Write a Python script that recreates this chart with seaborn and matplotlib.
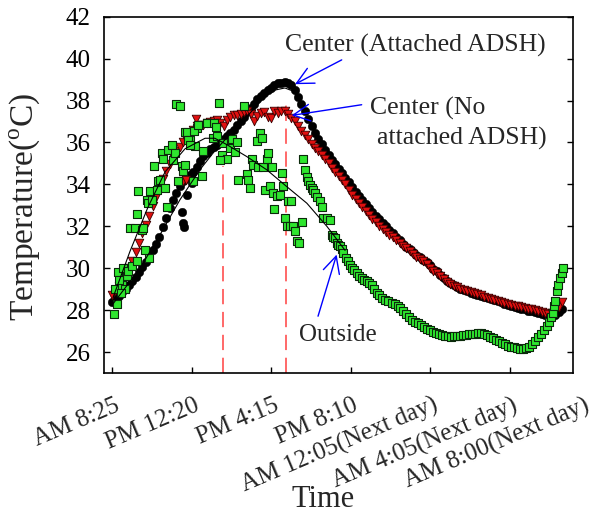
import numpy as np
import pandas as pd
import matplotlib
matplotlib.use("Agg")
import matplotlib.pyplot as plt
import seaborn as sns

# ---------------- data (minutes after AM 8:25) ----------------
tick_labels = ["AM 8:25", "PM 12:20", "PM 4:15", "PM 8:10",
               "AM 12:05(Next day)", "AM 4:05(Next day)", "AM 8:00(Next day)"]
tick_minutes = [0, 235, 470, 705, 940, 1175, 1389]
yticks = [26, 28, 30, 32, 34, 36, 38, 40, 42]

# regular 10-min sampling for the two centre sensors
center_t = np.arange(0, 1331, 10)
attached_temp = [
    28.4, 28.53, 28.68, 28.85, 29.02, 29.2, 29.4, 29.6, 29.8, 30.05,
    30.3, 30.58, 30.85, 31.15, 31.5, 31.95, 32.4, 32.85, 33.25, 33.6,
    33.9, 34.15, 34.3, 34.45, 34.6, 34.85, 35.1, 35.35, 35.52, 35.67,
    35.8, 35.9, 36.0, 36.15, 36.3, 36.47, 36.6, 36.82, 37.03, 37.2,
    37.43, 37.65, 37.85, 38.05, 38.22, 38.35, 38.48, 38.62, 38.75, 38.82,
    38.86, 38.88, 38.85, 38.75, 38.5, 38.15, 37.85, 37.5, 37.12, 36.78,
    36.45, 36.18, 35.92, 35.65, 35.42, 35.18, 34.95, 34.75, 34.54, 34.3,
    34.1, 33.88, 33.65, 33.45, 33.25, 33.05, 32.88, 32.7, 32.5, 32.33,
    32.17, 32.0, 31.83, 31.67, 31.5, 31.33, 31.17, 31.0, 30.9, 30.78,
    30.65, 30.52, 30.4, 30.3, 30.13, 29.97, 29.85, 29.68, 29.53, 29.4,
    29.3, 29.2, 29.1, 29.03, 28.97, 28.9, 28.83, 28.77, 28.72, 28.67,
    28.61, 28.56, 28.51, 28.46, 28.42, 28.37, 28.31, 28.26, 28.21, 28.17,
    28.12, 28.07, 28.03, 27.98, 27.94, 27.9, 27.86, 27.82, 27.78, 27.74,
    27.74, 27.79, 27.9, 28.05]
noattach_temp = [
    28.7, 28.93, 29.17, 29.45, 29.72, 30.0, 30.35, 30.78, 31.22, 31.7,
    32.07, 32.48, 32.95, 33.42, 33.85, 34.25, 34.62, 34.97, 35.3, 35.57,
    35.8, 36.0, 36.17, 36.37, 36.6, 36.78, 36.85, 36.85, 36.92, 36.97,
    37.0, 37.08, 36.95, 36.8, 37.05, 37.2, 37.3, 37.33, 37.38, 37.45,
    37.5, 37.35, 37.0, 37.25, 37.4, 37.45, 37.2, 37.15, 37.5, 37.42,
    37.48, 37.5, 37.35, 37.18, 37.0, 36.77, 36.55, 36.35, 36.15, 35.95,
    35.75, 35.58, 35.4, 35.2, 35.0, 34.8, 34.6, 34.4, 34.2, 34.0,
    33.73, 33.5, 33.3, 33.1, 32.92, 32.75, 32.55, 32.37, 32.2, 32.03,
    31.87, 31.72, 31.6, 31.47, 31.33, 31.19, 31.06, 30.95, 30.84, 30.7,
    30.55, 30.44, 30.34, 30.22, 30.02, 29.85, 29.75, 29.62, 29.48, 29.35,
    29.25, 29.17, 29.1, 29.03, 28.97, 28.9, 28.85, 28.8, 28.75, 28.7,
    28.65, 28.6, 28.55, 28.5, 28.45, 28.4, 28.35, 28.3, 28.26, 28.22,
    28.18, 28.14, 28.1, 28.06, 28.03, 28.0, 27.96, 27.91, 27.86, 27.82,
    27.85, 27.98, 28.15, 28.4]

# off-curve readings
attached_extra_t = [206, 211, 213, 221, 236]
attached_extra_temp = [32.7, 32.15, 31.95, 33.5, 34.05]
noattach_extra_t = [211, 219, 247]
noattach_extra_temp = [34.15, 34.2, 37.1]

outside_t = [7, 14, 9, 19, 24, 30, 33, 44, 48, 58, 73, 53, 68, 75, 78, 88, 93, 103, 107, 109,
             98, 112, 117, 125, 132, 137, 142, 147, 152, 157, 162, 166, 177, 181, 186,
             196, 206, 211, 216, 221, 231, 240, 245, 250, 189, 201, 21, 38, 27,
             226, 242, 255, 270, 280, 299, 310, 216, 265, 232, 301, 307, 329, 324, 339,
             319, 349, 354, 364, 369, 373, 398, 403, 408, 413, 418, 428, 438, 443, 433,
             447, 457, 462, 472, 452, 467, 477, 487, 497, 502, 506, 480, 521, 511, 516,
             526, 536, 541, 546, 554, 561, 317, 390, 528,
             566, 571, 576, 580, 585, 590, 595, 600, 605, 615, 620, 625, 635, 644,
             649, 654, 659, 664, 669, 674, 679, 684, 692, 699, 704, 709, 715, 723,
             730, 738, 745, 753, 760, 768, 775, 783, 789, 797, 807, 817, 827, 837,
             845, 851, 860, 869, 878, 887, 896, 905, 913, 922, 931, 940, 949, 958,
             967, 976, 984, 993, 1002, 1011, 1020, 1029, 1038, 1046, 1055, 1064,
             1073, 1082, 1091, 1100, 1109, 1117, 1126, 1135, 1144, 1153, 1162, 1171,
             1179, 1188, 1197, 1206, 1215, 1224, 1233, 1242, 1250, 1259, 1268, 1277,
             1286, 1292, 1298, 1303, 1307, 1310, 1315, 1319, 1324, 1329, 1334]
outside_temp = [27.83, 28.3, 28.99, 29.81, 29.38, 29.22, 30.02, 29.62, 29.86, 30.1, 30.33,
                31.92, 31.92, 32.6, 33.7, 31.84, 31.92, 33.27, 33.11, 30.49, 30.89, 33.7,
                33.27, 34.9, 33.75, 34.14, 34.22, 35.5, 35.2, 33.83, 32.9, 35.65, 35.89,
                35.18, 35.5, 34.14, 34.86, 34.62, 36.52, 36.52, 36.13, 34.14, 35.81, 36.68,
                37.83, 37.72, 29.46, 28.99, 28.8,
                36.13, 36.55, 36.84, 35.57, 36.92, 36.21, 36.29, 34.94, 34.39, 35.89,
                36.92, 36.76, 35.97, 35.41, 35.2, 35.18, 35.73, 36.17, 35.53, 36.0, 34.22,
                34.5, 34.22, 33.83, 35.2, 34.94, 36.05, 36.45, 36.21, 34.83, 34.83, 35.2,
                35.5, 34.83, 33.71, 33.9, 33.59, 33.43, 33.51, 34.54, 33.9, 32.83, 33.19,
                32.4, 32.0, 32.0, 32.0, 31.76, 31.29, 31.21, 32.19, 37.9, 37.72, 33.19,
                35.2, 34.7, 34.36, 34.15, 33.99, 33.83, 33.75, 33.59, 33.4, 33.19, 32.93,
                32.4, 32.4, 32.32,
                31.6, 31.5, 31.45, 31.21, 31.1, 31.05, 30.9, 30.73, 30.5, 30.33, 30.15,
                30.02, 29.9, 29.78, 29.65, 29.54, 29.45, 29.38, 29.3, 29.22, 29.0, 28.83,
                28.7, 28.59, 28.5, 28.43, 28.35, 28.27, 28.18, 28.11, 27.95, 27.8, 27.65,
                27.55, 27.45, 27.38, 27.3, 27.2, 27.12, 27.05, 26.97, 26.9, 26.85, 26.8,
                26.78, 26.75, 26.74, 26.75, 26.76, 26.77, 26.8, 26.82, 26.84, 26.86, 26.88,
                26.9, 26.9, 26.86, 26.8, 26.74, 26.66, 26.58, 26.52, 26.45, 26.38, 26.31,
                26.26, 26.22, 26.18, 26.16, 26.16, 26.18, 26.22, 26.38, 26.55, 26.7, 26.88,
                27.05, 27.25, 27.45, 27.65, 27.88, 28.19, 28.43, 28.9, 29.22, 29.54, 29.78,
                30.02]

# thin trend curves
outside_trend_t = [3, 53, 106, 157, 216, 275, 304, 339, 398, 457, 516, 576, 635, 654, 689]
outside_trend_temp = [28.6, 30.8, 32.9, 34.6, 35.7, 36.2, 36.2, 35.9, 35.33, 34.7, 33.9,
                      33.1, 32.0, 31.6, 30.85]
attached_trend_t = [3, 83, 142, 201, 260, 299, 349, 408, 452, 482, 511, 535, 556, 573]
attached_trend_temp = [28.3, 30.0, 31.6, 33.27, 34.7, 35.5, 36.4, 37.4, 38.2, 38.5, 38.6,
                       38.45, 38.0, 37.5]

# dashed markers of the two peak times
peak_t = [329, 514]
peak_temp = [34.86, 38.1]

# ---------------- style ----------------
sns.set_theme(style="ticks")
plt.rcParams["font.family"] = ["Liberation Serif", "DejaVu Serif"]
plt.rcParams["mathtext.fontset"] = "custom"
plt.rcParams["mathtext.rm"] = "Liberation Serif"

fig = plt.figure(figsize=(6.02, 5.15), dpi=100)
W, H = 602, 515
ax = fig.add_axes([104.3 / W, 1 - 373 / H, (572.7 - 104.3) / W, (373 - 16.7) / H])

df_att = pd.DataFrame({"t": center_t, "temp": attached_temp})
df_att_x = pd.DataFrame({"t": attached_extra_t, "temp": attached_extra_temp})
df_no = pd.DataFrame({"t": center_t, "temp": noattach_temp})
df_no_x = pd.DataFrame({"t": noattach_extra_t, "temp": noattach_extra_temp})
df_out = pd.DataFrame({"t": outside_t, "temp": outside_temp})

for i in range(2):
    ax.vlines(peak_t[i], 25, peak_temp[i], colors="#ff4040", linestyles=(0, (10, 5)),
              linewidth=1.1, zorder=1)

sns.scatterplot(data=df_att, x="t", y="temp", marker="o", s=38, color="black",
                edgecolor="black", linewidth=0.3, ax=ax, zorder=2)
sns.scatterplot(data=df_att_x, x="t", y="temp", marker="o", s=38, color="black",
                edgecolor="black", linewidth=0.3, ax=ax, zorder=2)
sns.scatterplot(data=df_no, x="t", y="temp", marker="v", s=38, color="#e01010",
                edgecolor="#3a0000", linewidth=0.6, ax=ax, zorder=3)
sns.scatterplot(data=df_no_x, x="t", y="temp", marker="v", s=38, color="#e01010",
                edgecolor="#3a0000", linewidth=0.6, ax=ax, zorder=3)
sns.scatterplot(data=df_out, x="t", y="temp", marker="s", s=28, color="#2ee62e",
                edgecolor="#0b2a0b", linewidth=0.8, ax=ax, zorder=4)

sns.lineplot(x=outside_trend_t, y=outside_trend_temp, sort=False, estimator=None,
             color="black", linewidth=0.8, ax=ax, zorder=5)
sns.lineplot(x=attached_trend_t, y=attached_trend_temp, sort=False, estimator=None,
             color="black", linewidth=0.8, ax=ax, zorder=5)

ax.set_xlim(-22.8, 1361.8)
ax.set_ylim(25, 42)
ax.set_yticks(yticks)
ax.set_yticklabels([str(v) for v in yticks])
ax.set_xticks(tick_minutes[:-1])
ax.set_xticklabels([])
ax.set_xlabel("")
ax.set_ylabel("")
ax.tick_params(axis="both", direction="in", length=4, width=1, colors="black")
ax.tick_params(axis="y", right=True, labelsize=18, pad=10)
ax.tick_params(axis="x", top=False)
for sp in ax.spines.values():
    sp.set_visible(True)
    sp.set_linewidth(1.2)
    sp.set_color("black")

for lab, tm in zip(tick_labels, tick_minutes):
    ax.annotate(lab, xy=(tm, 0), xycoords=("data", "axes fraction"),
                xytext=(6.5, -26.6), textcoords="offset points", rotation=23,
                rotation_mode="anchor", ha="right", va="baseline", fontsize=18,
                annotation_clip=False)

ax.set_xlabel("Time", fontsize=22)
ax.xaxis.set_label_coords(0.466, -0.315)
ax.set_ylabel("Temperature($^{\\mathrm{o}}$C)", fontsize=24)
ax.yaxis.set_label_coords(-0.133, 0.467)

# annotations
ax.text(511, 40.33, "Center (Attached ADSH)", fontsize=18.5, ha="left", va="baseline")
ax.text(763, 37.32, "Center (No", fontsize=18.5, ha="left", va="baseline")
ax.text(783, 35.89, "attached ADSH)", fontsize=18.5, ha="left", va="baseline")
ax.text(553, 26.51, "Outside", fontsize=18, ha="left", va="baseline")

arrow_kw = dict(arrowstyle="->,head_length=0.6,head_width=0.3", color="#0000ff",
                lw=1.0, mutation_scale=20, shrinkA=0, shrinkB=0)
ax.annotate("", xy=(541, 38.78), xytext=(679, 39.94), arrowprops=arrow_kw, zorder=6)
ax.annotate("", xy=(531, 37.29), xytext=(738, 37.8), arrowprops=arrow_kw, zorder=6)
ax.annotate("", xy=(664, 30.65), xytext=(609, 27.71), arrowprops=arrow_kw, zorder=6)

fig.savefig("out.png", dpi=100)
